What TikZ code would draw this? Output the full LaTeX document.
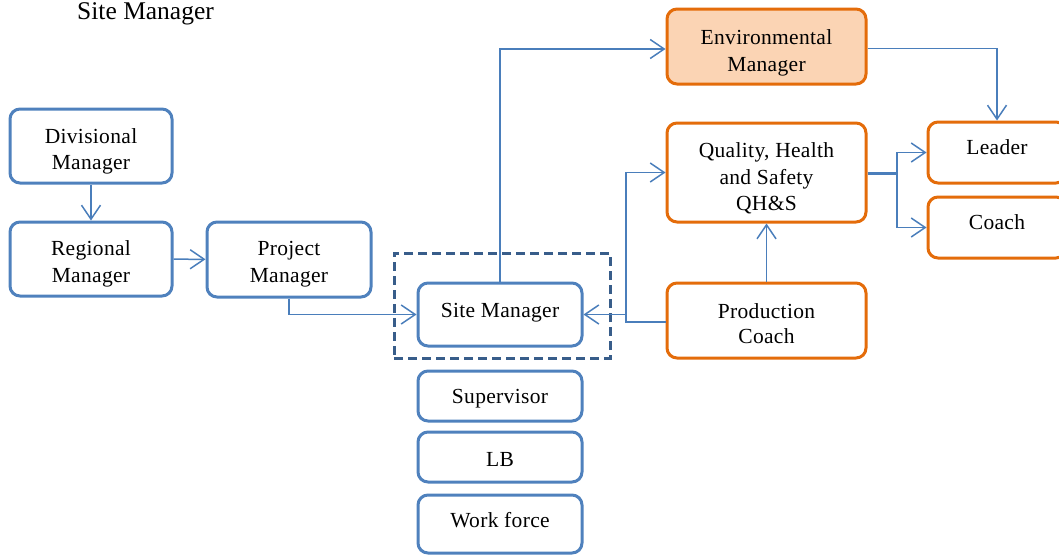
\documentclass[tikz,border=0pt]{standalone}
\usepackage{fontspec}
\setmainfont{Liberation Serif}
\usetikzlibrary{arrows.meta}
\definecolor{boxblue}{HTML}{4F81BD}
\definecolor{lineblue}{HTML}{4A7EBB}
\definecolor{frameblue}{HTML}{385D8A}
\definecolor{boxorange}{HTML}{E46C0A}
\definecolor{peach}{HTML}{FBD4B4}
\begin{document}
\begin{tikzpicture}[x=1pt,y=-1pt,
  bluebox/.style={draw=boxblue,line width=3pt,rounded corners=10pt,minimum width=162pt,inner sep=0pt},
  orangebox/.style={draw=boxorange,line width=3pt,rounded corners=10pt,minimum width=199pt,inner sep=0pt},
  txt/.style={font=\fontsize{21.5}{26}\selectfont\addfontfeatures{LetterSpace=1.5},inner sep=0pt,anchor=base},
  conn/.style={draw=lineblue,line width=1.5pt,-{Straight Barb[length=14pt,width=19pt]}},
  frame/.style={draw=frameblue,line width=3pt,dash pattern=on 9pt off 5pt,minimum width=216pt,minimum height=105pt,inner sep=0pt}
]
\useasboundingbox (0,0) rectangle (1059,554);

% heading
\node[font=\fontsize{25.5}{30}\selectfont,inner sep=0pt,anchor=base west] (title) at (77,19) {Site Manager};

% left chain
\node[bluebox,minimum height=74pt] (div) at (91,146) {};
\node[txt] (divA) at (91,143) {Divisional};
\node[txt] (divB) at (91,169) {Manager};

\node[bluebox,minimum height=74pt] (reg) at (91,259) {};
\node[txt] (regA) at (91,255) {Regional};
\node[txt] (regB) at (91,282) {Manager};

\node[bluebox,minimum width=164pt,minimum height=75pt] (proj) at (289,259.5) {};
\node[txt] (projA) at (289,255) {Project};
\node[txt] (projB) at (289,282) {Manager};

% site column
\node[frame] (frm) at (502,305.5) {};
\node[bluebox,minimum width=164pt,minimum height=63pt] (site) at (500,314.5) {};
\node[txt] (siteA) at (500,317) {Site Manager};

\node[bluebox,minimum width=164pt,minimum height=50pt] (sup) at (500,396) {};
\node[txt] (supA) at (500,403) {Supervisor};

\node[bluebox,minimum width=164pt,minimum height=50pt] (lb) at (500,457) {};
\node[txt] (lbA) at (500,466) {LB};

\node[bluebox,minimum width=164pt,minimum height=58pt] (wf) at (500,524) {};
\node[txt] (wfA) at (500,527) {Work force};

% right side
\node[orangebox,fill=peach,minimum height=75pt] (env) at (766.5,46.5) {};
\node[txt] (envA) at (766.5,44) {Environmental};
\node[txt] (envB) at (766.5,71) {Manager};

\node[orangebox,minimum height=99pt] (qhs) at (766.5,172.5) {};
\node[txt] (qhsA) at (766.5,157) {Quality, Health};
\node[txt] (qhsB) at (766.5,184) {and Safety};
\node[txt] (qhsC) at (766.5,210) {QH\&S};

\node[orangebox,minimum height=75pt] (prod) at (766.5,320.5) {};
\node[txt] (prodA) at (766.5,318) {Production};
\node[txt] (prodB) at (766.5,343) {Coach};

\node[orangebox,minimum width=138pt,minimum height=61pt] (lead) at (997,152.5) {};
\node[txt] (leadA) at (997,154) {Leader};

\node[orangebox,minimum width=138pt,minimum height=61pt] (coach) at (997,227.5) {};
\node[txt] (coachA) at (997,229) {Coach};

% junction points
\coordinate (split) at (897,173);
\coordinate (bus) at (626,322);

% connectors
\draw[conn] (div) -- (reg);
\draw[conn] (reg) -- (proj);
\draw[conn] (proj.south) |- (site.west);
\draw[conn] (site.north) |- ([yshift=-2.5pt]env.west);
\draw[conn] ([yshift=-2pt]env.east) -| (lead.north);
\draw[draw=lineblue,line width=3pt] (qhs.east |- split) -- (split);
\draw[conn] (split) |- (lead.west);
\draw[conn] (split) |- (coach.west);
\draw[conn] (prod.north) -- (qhs.south);
\draw[conn] ([yshift=-1.5pt]prod.west) -- (bus) |- (qhs.west);
\draw[conn] (bus |- site.east) -- (site.east);
\end{tikzpicture}
\end{document}
